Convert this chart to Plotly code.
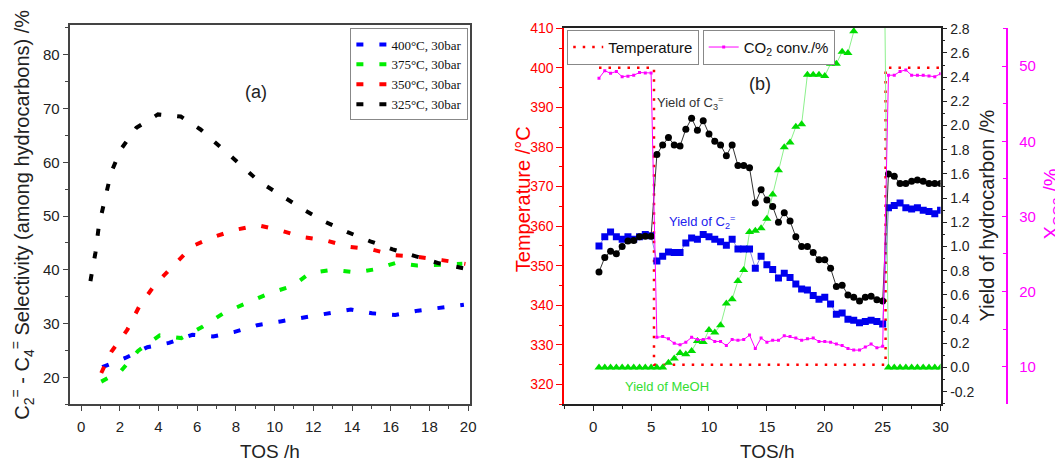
import plotly.graph_objects as go

# ---------------- data: panel (a) ----------------
tos_400 = [1.09, 2.28, 3.42, 4.54, 5.75, 6.82, 7.89, 9.1, 10.3, 11.54, 12.78, 13.94, 15.03, 16.23, 17.4, 18.65, 19.78]
sel_400 = [21.9, 23.6, 25.6, 26.4, 27.9, 27.6, 28.4, 29.7, 30.4, 31.1, 31.8, 32.6, 31.9, 31.6, 32.4, 32.9, 33.5]
tos_375 = [1.04, 2.04, 2.94, 4.06, 5.18, 6.27, 7.39, 8.58, 9.7, 10.93, 11.83, 13.0, 14.25, 15.2, 16.27, 17.36, 19.7]
sel_375 = [19.2, 21.1, 24.9, 27.8, 27.3, 29.4, 32.0, 33.8, 35.6, 37.0, 39.4, 40.0, 39.5, 40.1, 41.3, 40.8, 41.1]
tos_350 = [1.04, 1.55, 2.38, 3.02, 3.83, 4.84, 5.75, 6.77, 7.94, 9.12, 10.33, 11.4, 12.6, 13.8, 15.0, 16.2, 17.4, 18.65, 19.86]
sel_350 = [20.8, 24.7, 28.8, 33.3, 37.3, 41.0, 44.4, 46.0, 47.4, 48.3, 47.3, 46.1, 45.5, 44.3, 43.8, 42.7, 42.4, 41.8, 41.1]
tos_325 = [0.48, 0.74, 0.92, 1.24, 1.55, 2.07, 2.85, 3.97, 5.15, 6.17, 7.17, 8.15, 9.2, 10.33, 11.5, 12.56, 13.77, 14.94, 16.1, 17.3, 18.5, 19.74]
sel_325 = [37.9, 43.2, 48.3, 53.3, 58.1, 62.5, 66.4, 68.9, 68.5, 66.1, 63.0, 59.8, 56.4, 53.8, 51.2, 49.0, 47.0, 45.3, 43.8, 42.5, 41.2, 40.3]

# ---------------- data: panel (b) ----------------
tos_b = [0.5, 1.0, 1.5, 2.0, 2.5, 3.0, 3.5, 4.0, 4.5, 5.0,
         5.5, 6.0, 6.5, 7.0, 7.5, 8.0, 8.5, 9.0, 9.5, 10.0,
         10.5, 11.0, 11.5, 12.0, 12.5, 13.0, 13.5, 14.0, 14.5, 15.0,
         15.5, 16.0, 16.5, 17.0, 17.5, 18.0, 18.5, 19.0, 19.5, 20.0,
         20.5, 21.0, 21.5, 22.0, 22.5, 23.0, 23.5, 24.0, 24.5, 25.0,
         25.5, 26.0, 26.5, 27.0, 27.5, 28.0, 28.5, 29.0, 29.5, 30.0]
temperature = [400] * 10 + [325] * 40 + [400] * 10
co2_conv = [48.4, 49.4, 49.05, 49.3, 48.6, 48.65, 48.8, 49.15, 49.1, 49.1,
            13.9, 14.0, 13.7, 13.1, 12.9, 13.26, 13.9, 13.6, 13.6, 13.8,
            13.35, 13.35, 12.8, 13.6, 13.5, 13.6, 14.2, 12.4, 13.8, 13.26,
            13.5, 13.5, 14.1, 14.0, 13.8, 13.5, 13.7, 13.8, 13.35, 13.35,
            13.26, 13.0, 12.8, 12.4, 12.2, 12.2, 12.6, 13.0, 12.5, 12.7,
            48.8, 48.8, 49.3, 49.5, 48.8, 48.8, 48.8, 48.7, 48.6, 49.0]
yield_c3 = [0.79, 0.91, 0.96, 0.94, 1.0, 1.045, 1.05, 1.08, 1.085, 1.085,
            1.76, 1.84, 1.90, 1.84, 1.83, 1.97, 2.06, 1.96, 2.04, 1.93,
            1.87, 1.84, 1.75, 1.84, 1.67, 1.67, 1.65, 1.36, 1.47, 1.385,
            1.33, 1.20, 1.28, 1.21, 1.08, 1.0, 1.0, 0.95, 0.89, 0.89,
            0.82, 0.67, 0.68, 0.60, 0.58, 0.55, 0.58, 0.59, 0.56, 0.55,
            1.60, 1.58, 1.52, 1.52, 1.54, 1.55, 1.54, 1.52, 1.52, 1.52]
yield_c2 = [1.005, 1.08, 1.12, 1.08, 1.06, 1.08, 1.06, 1.08, 1.10, 1.09,
            0.88, 0.92, 0.955, 0.95, 0.95, 1.03, 1.07, 1.06, 1.10, 1.08,
            1.06, 1.04, 1.01, 1.06, 0.98, 0.98, 0.98, 0.82, 0.92, 0.85,
            0.81, 0.74, 0.78, 0.745, 0.69, 0.65, 0.64, 0.595, 0.565, 0.58,
            0.525, 0.44, 0.45, 0.40, 0.39, 0.37, 0.38, 0.39, 0.38, 0.36,
            1.32, 1.34, 1.36, 1.32, 1.31, 1.32, 1.30, 1.29, 1.27, 1.30]
yield_meoh = [0, 0, 0, 0, 0, 0, 0, 0, 0, 0,
              0, 0, 0.04, 0.074, 0.12, 0.11, 0.136, 0.22, 0.21, 0.31,
              0.29, 0.35, 0.53, 0.565, 0.715, 0.805, 1.12, 1.13, 1.15, 1.23,
              1.43, 1.63, 1.82, 1.86, 1.99, 2.01, 2.42, 2.42, 2.42, 2.41,
              2.51, 2.51, 2.61, 2.60, 2.78, 2.95, 3.2, 3.5, 4.0, 4.7,
              0, 0, 0, 0, 0, 0, 0, 0, 0, 0]

yield_ticks = [-0.2, 0.0, 0.2, 0.4, 0.6, 0.8, 1.0, 1.2, 1.4, 1.6, 1.8, 2.0, 2.2, 2.4, 2.6, 2.8]

# ---------------- layout helpers ----------------
# the page body has an 8px margin, so the figure is placed 8px in and sized to fit the window
OFF = 8
W, H = 1063 - OFF, 462 - OFF
def px(x):
    return (x - OFF) / W
def py(y):
    return 1 - (y - OFF) / H

SANS = "Liberation Sans, Arial, sans-serif"
SERIF = "Liberation Serif, Times New Roman, serif"

fig = go.Figure()

# panel (a) dashed curves
for xs, ys, col, name in [(tos_400, sel_400, "#0000ff", "400°C, 30bar"),
                          (tos_375, sel_375, "#00ee00", "375°C, 30bar"),
                          (tos_350, sel_350, "#ff0000", "350°C, 30bar"),
                          (tos_325, sel_325, "#000000", "325°C, 30bar")]:
    fig.add_trace(go.Scatter(x=xs, y=ys, mode="lines", name=name,
                             line=dict(color=col, width=4, dash="7px,16px"),
                             xaxis="x", yaxis="y", legend="legend"))

# panel (b)
fig.add_trace(go.Scatter(x=tos_b, y=temperature, mode="lines", name="Temperature",
                         line=dict(color="#ff0000", width=2.5, dash="2.5px,7px", shape="hvh"),
                         xaxis="x2", yaxis="y2", legend="legend2"))
fig.add_trace(go.Scatter(x=tos_b, y=co2_conv, mode="lines+markers", name="CO<sub>2</sub> conv./%",
                         line=dict(color="#ff00ff", width=1),
                         marker=dict(symbol="square", size=3, color="#ff00ff"),
                         xaxis="x2", yaxis="y4", legend="legend3"))
fig.add_trace(go.Scatter(x=tos_b, y=yield_meoh, mode="lines+markers", showlegend=False,
                         line=dict(color="#8cf08c", width=1),
                         marker=dict(symbol="triangle-up", size=8, color="#00dd00"),
                         xaxis="x2", yaxis="y3"))
fig.add_trace(go.Scatter(x=tos_b, y=yield_c2, mode="lines+markers", showlegend=False,
                         line=dict(color="rgba(60,60,200,0.6)", width=1),
                         marker=dict(symbol="square", size=7, color="#0000ee"),
                         xaxis="x2", yaxis="y3"))
fig.add_trace(go.Scatter(x=tos_b, y=yield_c3, mode="lines+markers", showlegend=False,
                         line=dict(color="#333333", width=1),
                         marker=dict(symbol="circle", size=7, color="#000000"),
                         xaxis="x2", yaxis="y3"))

# ---------------- axes ----------------
ydom = [py(403.3), py(18.3)]
ydom2 = [py(403.3), py(20.7)]

fig.update_layout(
    width=W, height=H, margin=dict(l=0, r=0, t=0, b=0),
    paper_bgcolor="white", plot_bgcolor="white",
    font=dict(family=SANS, color="#222"),
    xaxis=dict(domain=[px(70), px(474)], range=[-0.6, 20.12], anchor="y",
               tickmode="linear", tick0=0, dtick=2, showgrid=False, zeroline=False,
               showline=True, linecolor="#444", linewidth=1.6, mirror=True,
               ticks="outside", ticklen=5, tickcolor="#444", tickwidth=1.3,
               minor=dict(dtick=1, tick0=0, ticks="outside", ticklen=3, tickcolor="#444"),
               tickfont=dict(size=15, color="#222"), ticklabelstandoff=3),
    yaxis=dict(domain=ydom, range=[15, 85.5], anchor="x",
               tickmode="linear", tick0=0, dtick=10, showgrid=False, zeroline=False,
               showline=True, linecolor="#444", linewidth=1.6, mirror=True,
               ticks="outside", ticklen=5, tickcolor="#444", tickwidth=1.3,
               minor=dict(dtick=5, tick0=0, ticks="outside", ticklen=3, tickcolor="#444"),
               tickfont=dict(size=15, color="#222")),
    xaxis2=dict(domain=[px(568.5), px(947.7)], range=[-2.5, 30], anchor="y2",
                tickmode="linear", tick0=0, dtick=5, showgrid=False, zeroline=False,
                showline=True, linecolor="#222", linewidth=1.6, mirror=True,
                ticks="outside", ticklen=5, tickcolor="#222", tickwidth=1.3,
                minor=dict(dtick=2.5, tick0=0, ticks="outside", ticklen=3, tickcolor="#222"),
                tickfont=dict(size=15, color="#222"), ticklabelstandoff=3),
    yaxis2=dict(domain=ydom2, range=[315, 410.2], anchor="x2", side="left",
                tickmode="linear", tick0=0, dtick=10, showgrid=False, zeroline=False,
                showline=True, linecolor="#ff0000", linewidth=1.6,
                ticks="outside", ticklen=6, tickcolor="#ff0000", tickwidth=1.3,
                minor=dict(dtick=5, tick0=0, ticks="outside", ticklen=3, tickcolor="#ff0000"),
                tickfont=dict(size=14, color="#ff0000")),
    yaxis3=dict(domain=ydom2, range=[-0.303, 2.81], overlaying="y2", anchor="x2", side="right",
                tickmode="array", tickvals=yield_ticks, ticktext=["%.1f" % v for v in yield_ticks],
                showgrid=False, zeroline=False,
                showline=True, linecolor="#222", linewidth=1.6,
                ticks="outside", ticklen=5, tickcolor="#222", tickwidth=1.3,
                minor=dict(dtick=0.1, tick0=0, ticks="outside", ticklen=3, tickcolor="#222"),
                tickfont=dict(size=14, color="#222")),
    yaxis4=dict(domain=ydom2, range=[5, 55.15], overlaying="y2", anchor="free",
                position=px(1015), side="right",
                tickmode="linear", tick0=0, dtick=10, showgrid=False, zeroline=False,
                showline=True, linecolor="#ff00ff", linewidth=1.6,
                ticks="inside", ticklen=5, tickcolor="#ff00ff", tickwidth=1.3,
                minor=dict(dtick=5, tick0=0, ticks="inside", ticklen=4, tickcolor="#ff00ff"),
                tickfont=dict(size=15, color="#ff00ff"), ticklabelstandoff=8),
    legend=dict(x=px(353), y=py(21.7), xanchor="left", yanchor="top",
                bgcolor="white", bordercolor="#888", borderwidth=1,
                font=dict(family=SERIF, size=13, color="#111"),
                tracegroupgap=0, itemwidth=30),
    legend2=dict(x=px(571.5), y=py(23), xanchor="left", yanchor="top",
                 bgcolor="white", bordercolor="#888", borderwidth=1,
                 font=dict(family=SANS, size=15, color="#111"), itemwidth=30),
    legend3=dict(x=px(708), y=py(23), xanchor="left", yanchor="top",
                 bgcolor="white", bordercolor="#888", borderwidth=1,
                 font=dict(family=SANS, size=15, color="#111"), itemwidth=30),
)

# ---------------- text ----------------
ann = [
    dict(x=px(23), y=py(211), text="C<sub>2</sub><sup>=</sup> - C<sub>4</sub><sup>=</sup> Selectivity (among hydrocarbons) /%",
         textangle=-90, font=dict(size=20, color="#222")),
    dict(x=px(272), y=py(451), text="TOS /h", font=dict(size=19, color="#222")),
    dict(x=px(773), y=py(451), text="TOS/h", font=dict(size=19, color="#222")),
    dict(x=px(527), y=py(195), text="Temperature /°C", textangle=-90, font=dict(size=20, color="#ff0000")),
    dict(x=px(994), y=py(212), text="Yield of hydrocarbon /%", textangle=-90, font=dict(size=20, color="#222")),
    dict(x=px(1060.5), y=py(200), text="X<sub>CO2</sub> /%", textangle=-90, font=dict(size=20, color="#ff00ff")),
    dict(x=px(258), y=py(86), text="(a)", font=dict(size=18, color="#222")),
    dict(x=px(766), y=py(78), text="(b)", font=dict(size=18, color="#222")),
    dict(x=px(695), y=py(97), text="Yield of C<sub>3</sub><sup>=</sup>", font=dict(size=13, color="#333")),
    dict(x=px(707), y=py(218), text="Yield of C<sub>2</sub><sup>=</sup>", font=dict(size=13, color="#2222ee")),
    dict(x=px(672), y=py(385), text="Yield of MeOH", font=dict(size=13, color="#33dd33")),
]
for a in ann:
    a.update(xref="paper", yref="paper", showarrow=False, xanchor="center", yanchor="middle")
    fig.add_annotation(**a)

fig.write_html("out.html")
